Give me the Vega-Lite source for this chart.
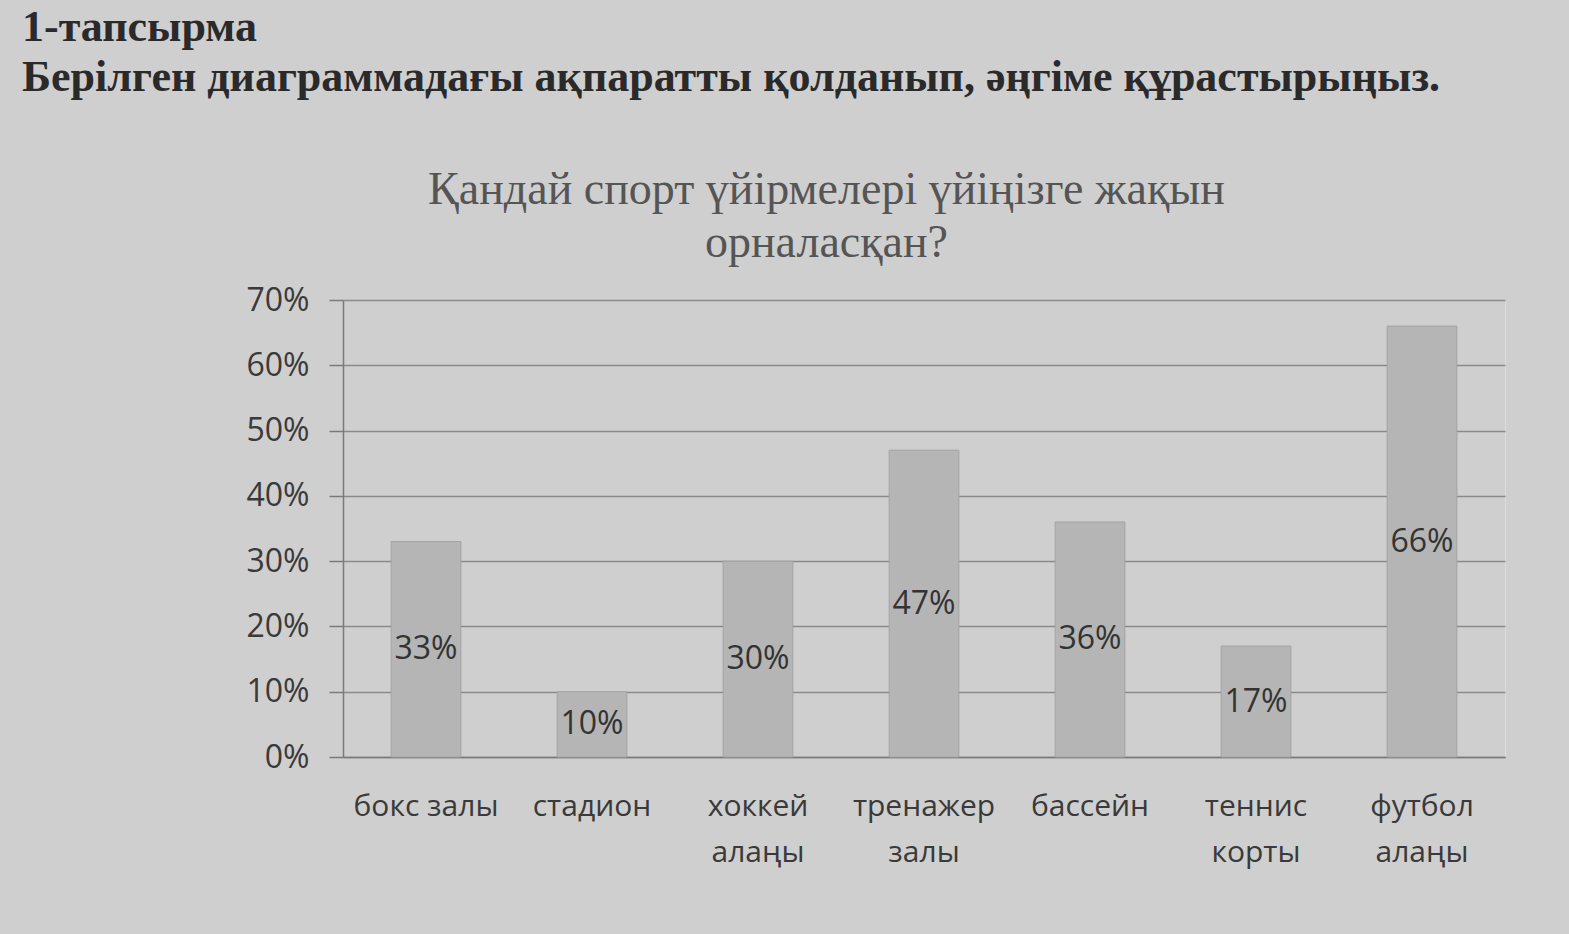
{
  "$schema": "https://vega.github.io/schema/vega-lite/v6.json",
  "autosize": {"type": "none"},
  "width": 1162,
  "height": 457,
  "padding": {"left": 343, "top": 300, "right": 64, "bottom": 177},
  "background": "#cfcfcf",
  "title": {
    "text": ["1-тапсырма", "Берілген диаграммадағы ақпаратты қолданып, әңгіме құрастырыңыз."],
    "anchor": "start",
    "frame": "group",
    "dx": -321,
    "dy": -26,
    "offset": 40,
    "font": "Liberation Serif",
    "fontSize": 44,
    "fontWeight": "bold",
    "color": "#2a2a2a",
    "lineHeight": 50
  },
  "data": {
    "values": [
      {"sport": "бокс залы", "share": 0.33},
      {"sport": "стадион", "share": 0.10},
      {"sport": "хоккей алаңы", "share": 0.30},
      {"sport": "тренажер залы", "share": 0.47},
      {"sport": "бассейн", "share": 0.36},
      {"sport": "теннис корты", "share": 0.17},
      {"sport": "футбол алаңы", "share": 0.66}
    ]
  },
  "transform": [{"calculate": "datum.share / 2", "as": "mid"}],
  "resolve": {"axis": {"x": "independent"}},
  "layer": [
    {
      "mark": {"type": "bar", "color": "#b5b5b5", "stroke": "#a3a3a3", "strokeWidth": 1},
      "encoding": {
        "x": {
          "field": "sport", "type": "nominal", "sort": null,
          "scale": {"paddingInner": 0.58, "paddingOuter": 0.29},
          "axis": {
            "orient": "bottom", "title": null, "labelAngle": 0,
            "labelFont": "Open Sans", "labelFontSize": 30, "labelColor": "#3a3a3a",
            "labelPadding": 34, "ticks": false, "domain": true, "domainColor": "#7a7a7a", "domainWidth": 1.5,
            "labelLineHeight": 46, "labelBaseline": "top",
            "labelExpr": "datum.label == 'бокс залы' || datum.label == 'бассейн' || datum.label == 'стадион' ? datum.label : split(datum.label, ' ')"
          }
        },
        "y": {
          "field": "share", "type": "quantitative",
          "scale": {"domain": [0, 0.7], "nice": false},
          "axis": {
            "title": null, "format": ".0%", "values": [0, 0.1, 0.2, 0.3, 0.4, 0.5, 0.6, 0.7],
            "labelFont": "Open Sans", "labelFontSize": 32, "labelColor": "#3a3a3a", "labelPadding": 20,
            "ticks": true, "tickSize": 14, "tickColor": "#7a7a7a", "tickWidth": 1.5,
            "domain": true, "domainColor": "#7a7a7a", "domainWidth": 1.5,
            "grid": true, "gridColor": "#8a8a8a", "gridWidth": 1.5
          }
        }
      }
    },
    {
      "mark": {"type": "text", "font": "Open Sans", "fontSize": 32, "color": "#333333"},
      "encoding": {
        "x": {
          "field": "sport", "type": "nominal", "sort": null,
          "axis": {
            "orient": "top", "labels": false, "ticks": false, "domain": false, "grid": false,
            "title": ["Қандай спорт үйірмелері үйіңізге жақын", "орналасқан?"],
            "titleFont": "Liberation Serif", "titleFontSize": 46, "titleFontWeight": "normal",
            "titleColor": "#555555", "titleLineHeight": 53,
            "titleX": 483, "titleY": -133, "titleAlign": "center", "titleBaseline": "top"
          }
        },
        "y": {"field": "mid", "type": "quantitative"},
        "text": {"field": "share", "type": "quantitative", "format": ".0%"}
      }
    }
  ]
}
